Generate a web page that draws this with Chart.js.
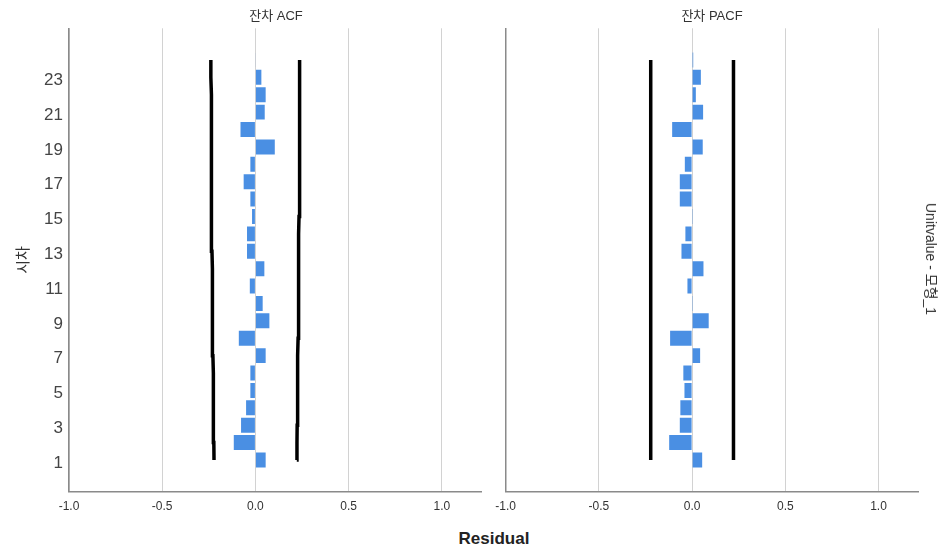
<!DOCTYPE html>
<html>
<head>
<meta charset="utf-8">
<script src="https://cdn.jsdelivr.net/npm/chart.js@4.4.1/dist/chart.umd.min.js"></script>
<style>
    body { margin: 0; background: #fff; }
    #wrap { position: relative; width: 947px; height: 551px; background: #fff; overflow: hidden;
            font-family: "Liberation Sans", Arial, "Noto Sans CJK KR", sans-serif; color: #333; }
    .panel { position: absolute; top: 0; height: 520px; }
    #acfBox { left: 0; width: 490px; }
    #pacfBox { left: 480px; width: 467px; }
    .ptitle { position: absolute; top: 5px; font-size: 13px; transform: translateX(-50%); white-space: nowrap; }
    #xTitle { position: absolute; left: 494px; top: 529px; font-size: 17px; font-weight: bold; color: #222;
              transform: translateX(-50%); white-space: nowrap; }
    #sideTitle { position: absolute; left: 932px; top: 259px; font-size: 14px; white-space: nowrap;
                 transform: translate(-50%, -50%) rotate(90deg); }
</style>
</head>
<body>
<div id="wrap">
    <div class="panel" id="acfBox"><canvas id="acf-chart"></canvas></div>
    <div class="panel" id="pacfBox"><canvas id="pacf-chart"></canvas></div>
    <div class="ptitle" style="left:276px">잔차 ACF</div>
    <div class="ptitle" style="left:712px">잔차 PACF</div>
    <div id="xTitle">Residual</div>
    <div id="sideTitle">Unitvalue - 모형_1</div>
</div>
<script>
// lags 1..24
const lags = [1, 2, 3, 4, 5, 6, 7, 8, 9, 10, 11, 12, 13, 14, 15, 16, 17, 18, 19, 20, 21, 22, 23, 24];
const acfValues = [0.055, -0.116, -0.077, -0.050, -0.027, -0.027, 0.055, -0.089, 0.075, 0.039, -0.030, 0.048,
                   -0.045, -0.045, -0.018, -0.027, -0.063, -0.027, 0.104, -0.080, 0.050, 0.055, 0.032, 0.003];
const pacfValues = [0.054, -0.123, -0.066, -0.063, -0.041, -0.047, 0.043, -0.118, 0.089, 0.001, -0.025, 0.061,
                    -0.057, -0.036, 0.001, -0.066, -0.066, -0.039, 0.057, -0.107, 0.059, 0.020, 0.047, 0.006];
// confidence limits (upper; lower is the negative)
const acfLimit = [0.222, 0.223, 0.224, 0.225, 0.226, 0.227, 0.228, 0.229, 0.230, 0.231, 0.231, 0.232,
                  0.233, 0.233, 0.234, 0.235, 0.235, 0.236, 0.237, 0.237, 0.238, 0.238, 0.239, 0.239];
const pacfLimit = [0.222, 0.222, 0.222, 0.222, 0.222, 0.222, 0.222, 0.222, 0.222, 0.222, 0.222, 0.222,
                   0.222, 0.222, 0.222, 0.222, 0.222, 0.222, 0.222, 0.222, 0.222, 0.222, 0.222, 0.222];
const yTickLabels = [1, 3, 5, 7, 9, 11, 13, 15, 17, 19, 21, 23];
const xTickValues = [-1.0, -0.5, 0.0, 0.5, 1.0];

const barColor = '#4a8fe3';
const gridColor = '#d2d2d2';
const axisColor = '#8a8a8a';
const tickColor = '#333';

function makeChart(canvasId, values, limits, showYLabels, yAxisWidth, rightPad) {
    const ctx = document.getElementById(canvasId).getContext('2d');
    return new Chart(ctx, {
        type: 'bar',
        data: {
            datasets: [{
                type: 'bar',
                data: lags.map((l, i) => ({ x: values[i], y: l })),
                backgroundColor: barColor,
                borderWidth: 0,
                barPercentage: 0.86,
                categoryPercentage: 1.0
            }, {
                type: 'line',
                indexAxis: 'y',
                data: lags.map((l, i) => ({ x: -limits[i], y: l })),
                borderColor: '#000',
                borderWidth: 3.5,
                pointRadius: 0,
                tension: 0,
                fill: false
            }, {
                type: 'line',
                indexAxis: 'y',
                data: lags.map((l, i) => ({ x: limits[i], y: l })),
                borderColor: '#000',
                borderWidth: 3.5,
                pointRadius: 0,
                tension: 0,
                fill: false
            }]
        },
        options: {
            indexAxis: 'y',
            responsive: true,
            maintainAspectRatio: false,
            animation: false,
            layout: { padding: { top: 28.3, right: rightPad, left: 0, bottom: 0 } },
            scales: {
                x: {
                    type: 'linear',
                    min: -1.0,
                    max: 1.214,
                    afterBuildTicks: scale => { scale.ticks = xTickValues.map(v => ({ value: v })); },
                    afterFit: scale => { scale.height = 28.3; },
                    ticks: {
                        color: tickColor,
                        padding: 8,
                        font: { family: '"Liberation Sans", Arial, sans-serif', size: 12 },
                        callback: v => Number(v).toFixed(1)
                    },
                    grid: { color: gridColor, lineWidth: 1, drawTicks: false },
                    border: { color: axisColor, width: 1.5 }
                },
                y: {
                    type: 'linear',
                    offset: false,
                    min: -0.823,
                    max: 25.82,
                    afterBuildTicks: scale => { scale.ticks = yTickLabels.map(v => ({ value: v })); },
                    afterFit: scale => { scale.width = yAxisWidth; },
                    ticks: {
                        display: showYLabels,
                        color: '#444',
                        padding: 6,
                        labelOffset: 3,
                        font: { family: '"Liberation Sans", Arial, sans-serif', size: 17 }
                    },
                    grid: { display: false, drawTicks: false },
                    border: { color: axisColor, width: 1.5 },
                    title: {
                        display: showYLabels,
                        text: '시차',
                        color: tickColor,
                        padding: { top: 13, bottom: 0 },
                        font: { family: '"Noto Sans CJK KR", sans-serif', size: 15 }
                    }
                }
            },
            plugins: {
                legend: { display: false },
                tooltip: { enabled: false }
            }
        }
    });
}

makeChart('acf-chart', acfValues, acfLimit, true, 69, 8.3);
makeChart('pacf-chart', pacfValues, pacfLimit, false, 25.7, 28.6);
</script>
</body>
</html>
